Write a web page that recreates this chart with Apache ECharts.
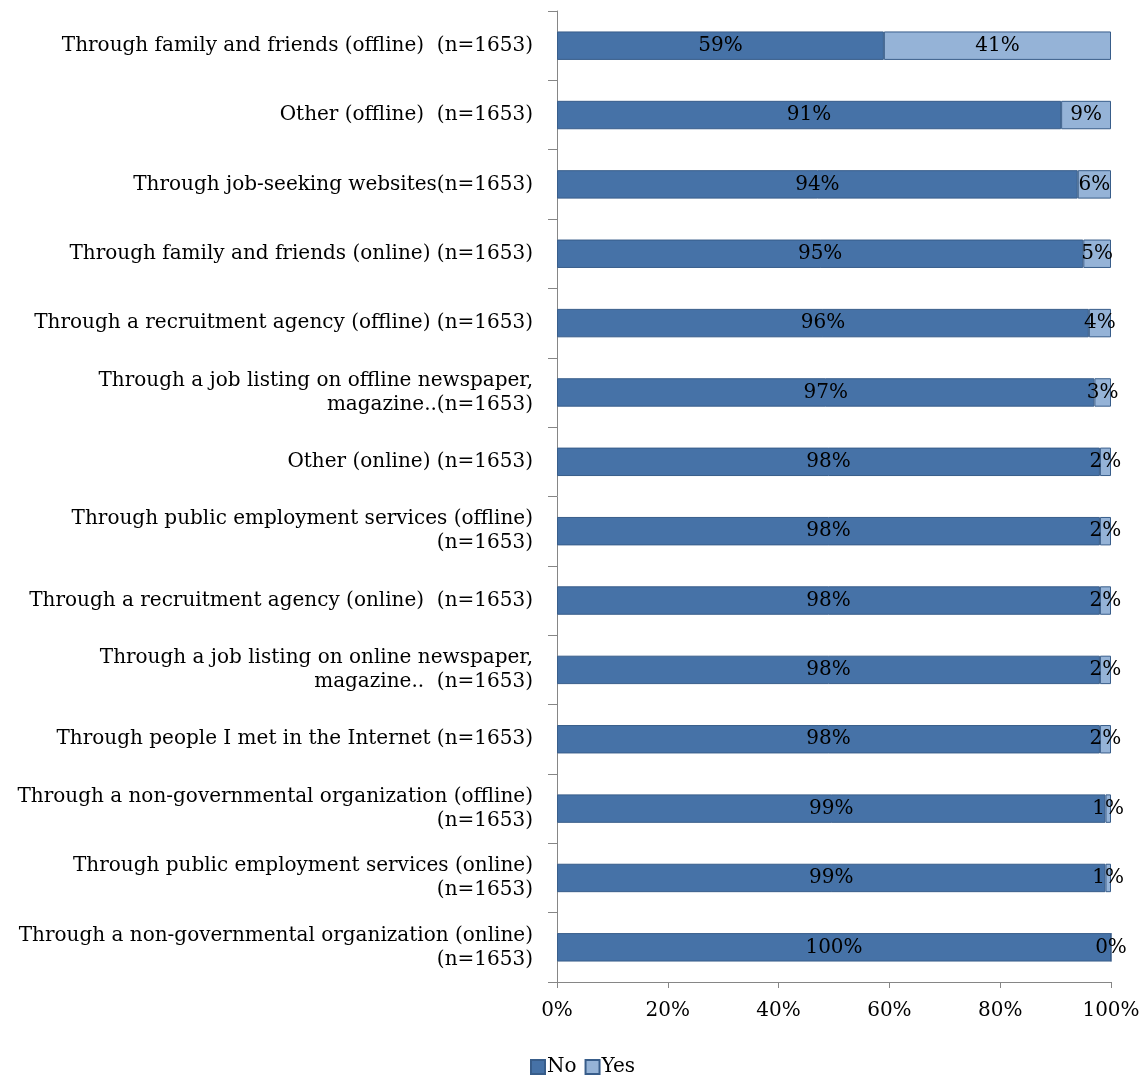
<!DOCTYPE html>
<html>
<head>
<meta charset="utf-8">
<script src="https://cdn.jsdelivr.net/npm/echarts@6/dist/echarts.min.js"></script>
<style>
  html, body { margin: 0; padding: 0; background: #fff; }
  #main { width: 1148px; height: 1075px; }
</style>
</head>
<body>
<div id="main"></div>
<script>
  var categories = [
    'Through family and friends (offline)  (n=1653)',
    'Other (offline)  (n=1653)',
    'Through job-seeking websites(n=1653)',
    'Through family and friends (online) (n=1653)',
    'Through a recruitment agency (offline) (n=1653)',
    'Through a job listing on offline newspaper,\nmagazine..(n=1653)',
    'Other (online) (n=1653)',
    'Through public employment services (offline)\n(n=1653)',
    'Through a recruitment agency (online)  (n=1653)',
    'Through a job listing on online newspaper,\nmagazine..  (n=1653)',
    'Through people I met in the Internet (n=1653)',
    'Through a non-governmental organization (offline)\n(n=1653)',
    'Through public employment services (online)\n(n=1653)',
    'Through a non-governmental organization (online)\n(n=1653)'
  ];
  var noValues = [59, 91, 94, 95, 96, 97, 98, 98, 98, 98, 98, 99, 99, 100];
  var yesValues = [41, 9, 6, 5, 4, 3, 2, 2, 2, 2, 2, 1, 1, 0];

  var font = 'DejaVu Serif';

  var option = {
    animation: false,
    textStyle: { fontFamily: font },
    grid: { left: 557, right: 37, top: 11, bottom: 93 },
    legend: {
      data: ['No', 'Yes'],
      left: 525,
      top: 1052,
      icon: 'rect',
      itemWidth: 14,
      itemHeight: 14,
      itemGap: 8,
      textStyle: { fontFamily: font, fontSize: 20, color: '#000', padding: [0, 0, 0, -3] }
    },
    xAxis: {
      type: 'value',
      min: 0,
      max: 100,
      interval: 20,
      axisLine: { show: true, lineStyle: { color: '#868686' } },
      axisTick: { show: true, length: 6, lineStyle: { color: '#868686' } },
      splitLine: { show: false },
      axisLabel: {
        formatter: '{value}%',
        fontFamily: font, fontSize: 20, color: '#000', margin: 19
      }
    },
    yAxis: {
      type: 'category',
      data: categories,
      inverse: true,
      axisLine: { show: true, lineStyle: { color: '#868686' } },
      axisTick: { show: true, length: 9, lineStyle: { color: '#868686' } },
      axisLabel: {
        fontFamily: font, fontSize: 20, color: '#000', margin: 24,
        align: 'right', lineHeight: 24
      }
    },
    series: [
      {
        name: 'No',
        type: 'bar',
        stack: 'total',
        barCategoryGap: '59%',
        data: noValues,
        itemStyle: { color: '#4672A7', borderColor: '#385D8A', borderWidth: 1 },
        label: {
          show: true, position: 'inside', formatter: '{c}%',
          fontFamily: font, fontSize: 20, color: '#000'
        }
      },
      {
        name: 'Yes',
        type: 'bar',
        stack: 'total',
        data: yesValues,
        itemStyle: { color: '#95B3D7', borderColor: '#385D8A', borderWidth: 1 },
        label: {
          show: true, position: 'inside', formatter: '{c}%',
          fontFamily: font, fontSize: 20, color: '#000'
        }
      }
    ]
  };

  echarts.init(document.getElementById('main')).setOption(option);
</script>
</body>
</html>
